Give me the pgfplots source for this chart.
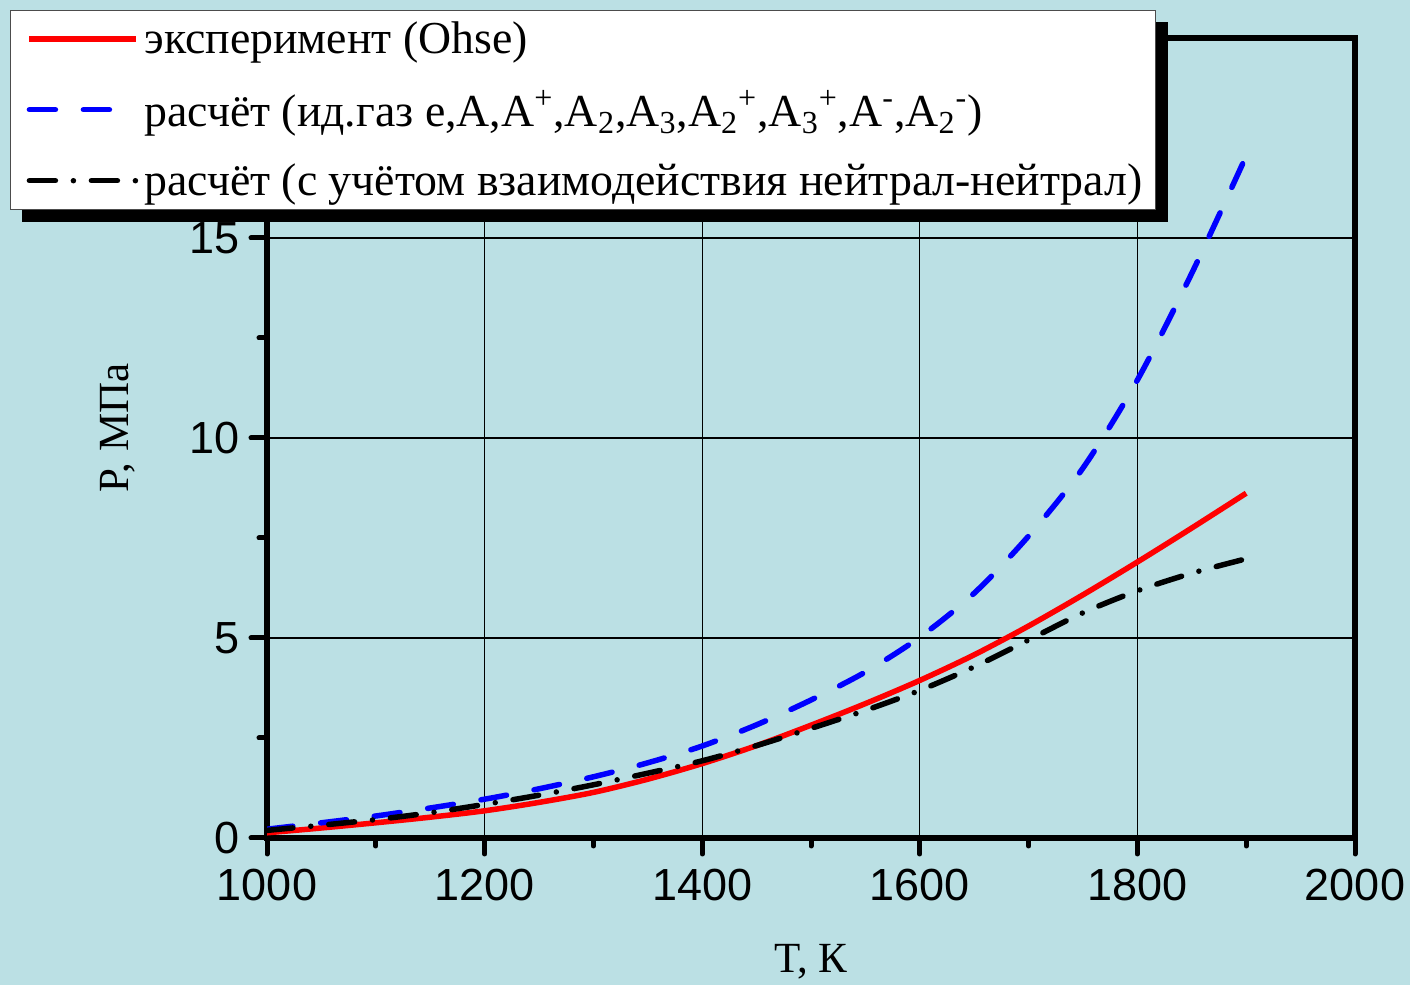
\documentclass[border=0pt]{standalone}
\usepackage{fontspec}
\setmainfont{Liberation Serif}
\newfontfamily\arialfont{Liberation Sans}
\usepackage{pgfplots}
\pgfplotsset{compat=1.18}
\definecolor{bg}{RGB}{187,224,228}
\definecolor{myblue}{RGB}{0,0,255}
\definecolor{myred}{RGB}{255,0,0}
\pgfdeclarelayer{bgfill}
\pgfdeclarelayer{shadow}
\pgfsetlayers{bgfill,shadow,main}
\begin{document}
\begin{tikzpicture}
\begin{pgfonlayer}{bgfill}
\fill[bg] (0,0) rectangle (705pt,492.5pt);
\end{pgfonlayer}
\useasboundingbox (0,0) rectangle (705pt,492.5pt);
\begin{axis}[
  at={(133.5pt,73.5pt)}, anchor=south west,
  width=544pt, height=400pt, scale only axis,
  xmin=1000, xmax=2000, ymin=0, ymax=20,
  xtick={1000,1200,...,2000}, ytick={0,5,10,15},
  minor x tick num=1, minor y tick num=1,
  tick pos=left, tick align=outside,
  major tick length=8pt, minor tick length=4pt,
  every tick/.style={black, line width=2.5pt, line cap=round},
  grid=major, grid style={black, line width=0.6pt},
  axis line style={line width=2.75pt},
  /pgf/number format/assume math mode=true,
  /pgf/number format/1000 sep={},
  tick label style={font=\arialfont\fontsize{22.5}{26}\selectfont},
  xticklabel style={yshift=-4pt},
  yticklabel style={xshift=-2pt},
  xlabel={T, К}, ylabel={P, МПа},
  label style={font=\fontsize{21.5}{24}\selectfont},
  x label style={at={(axis description cs:0.5,-0.155)}, anchor=center},
  y label style={at={(axis description cs:-0.137,0.5125)}, anchor=center},
  legend cell align=left,
  legend image code/.code={\path[use as bounding box, draw=none, fill=none] (-5.5pt,-2pt) rectangle (55pt,2pt); \draw[#1, line width=2.75pt] (0pt,0pt) -- (53.5pt,0pt);},
  legend style={name=legnode, at={(-0.2362,1.035)}, anchor=north west, draw=black!70,
    fill=white, font=\fontsize{22.9}{26}\selectfont,
    inner xsep=4pt, inner ysep=3pt, row sep=12pt,
    nodes={inner sep=2.5pt}},
]
\addplot[myred, line width=2.75pt, smooth] coordinates {
(1000,0.13) (1050,0.25) (1100,0.38) (1150,0.52) (1200,0.68) (1250,0.89)
(1300,1.14) (1350,1.47) (1400,1.86) (1450,2.31) (1500,2.82) (1550,3.36)
(1600,3.94) (1650,4.58) (1700,5.30) (1750,6.08) (1800,6.90) (1850,7.75) (1900,8.62)};
\addlegendentry{эксперимент (Ohse)}
\addplot[myblue, line width=2.75pt, dash pattern=on 13pt off 14pt, line cap=round, smooth] coordinates {
(1000,0.22) (1050,0.38) (1100,0.55) (1150,0.75) (1200,0.97) (1250,1.23)
(1300,1.53) (1350,1.88) (1400,2.30) (1450,2.83) (1500,3.45) (1550,4.15)
(1600,5.02) (1650,6.12) (1700,7.55) (1750,9.25) (1800,11.45) (1850,14.12) (1900,17.05)};
\addlegendentry{расчёт (ид.газ e,A,A\textsuperscript{+},A\textsubscript{2},A\textsubscript{3},A\textsubscript{2}\textsuperscript{+},A\textsubscript{3}\textsuperscript{+},A\textsuperscript{-},A\textsubscript{2}\textsuperscript{-})}
\addplot[black, line width=2.75pt, dash pattern=on 13pt off 9pt on 0pt off 9pt, line cap=round, smooth] coordinates {
(1000,0.19) (1050,0.32) (1100,0.46) (1150,0.63) (1200,0.84) (1250,1.07)
(1300,1.33) (1350,1.62) (1400,1.93) (1450,2.31) (1500,2.74) (1550,3.19)
(1600,3.69) (1650,4.28) (1700,4.95) (1750,5.63) (1800,6.18) (1850,6.62) (1900,6.98)};
\addlegendentry{расчёт (с учётом взаимодействия нейтрал-нейтрал)}
\end{axis}
\begin{pgfonlayer}{shadow}
\fill[black] ([shift={(6pt,-6pt)}]legnode.south west) rectangle ([shift={(6pt,-6pt)}]legnode.north east);
\end{pgfonlayer}
\end{tikzpicture}
\end{document}
